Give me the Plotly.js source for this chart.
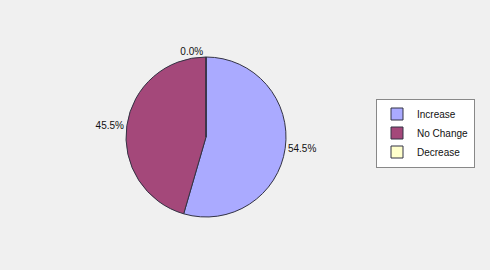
<!DOCTYPE html>
<html><head><meta charset="utf-8">
<script src="https://cdn.plot.ly/plotly-3.0.1.min.js"></script>
<style>html,body{margin:0;padding:0;background:#f0f0f0;}#chart{width:490px;height:270px;}</style>
</head><body><div id="chart"></div>
<script>
const categories = ["Increase", "No Change", "Decrease"];
const values = [54.5, 45.5, 0.0];
const colors = ["#aaaaff", "#a4487a", "#ffffcc"];

Plotly.newPlot("chart", [{
  type: "pie",
  labels: categories,
  values: values,
  sort: false,
  direction: "clockwise",
  rotation: 0,
  marker: {colors: colors, line: {color: "#333344", width: 1}},
  textposition: "outside",
  texttemplate: "%{percent:.1%}",
  textfont: {family: "Liberation Sans, Arial, sans-serif", size: 10, color: "#111111"},
  outsidetextfont: {family: "Liberation Sans, Arial, sans-serif", size: 10, color: "#111111"},
  hoverinfo: "label+percent",
  domain: {x: [126/490, 286/490], y: [53/270, 213/270]}
}], {
  width: 490, height: 270,
  margin: {l: 0, r: 0, t: 0, b: 0, autoexpand: false},
  paper_bgcolor: "#f0f0f0",
  plot_bgcolor: "#f0f0f0",
  font: {family: "Liberation Sans, Arial, sans-serif", size: 10, color: "#111111"},
  showlegend: true,
  legend: {
    x: 376/490, xanchor: "left",
    y: 1 - 133/270, yanchor: "middle",
    bgcolor: "#ffffff",
    bordercolor: "#888888", borderwidth: 1,
    font: {family: "Liberation Sans, Arial, sans-serif", size: 10, color: "#111111"},
    itemwidth: 30
  }
}, {displayModeBar: false, staticPlot: true});
</script></body></html>
